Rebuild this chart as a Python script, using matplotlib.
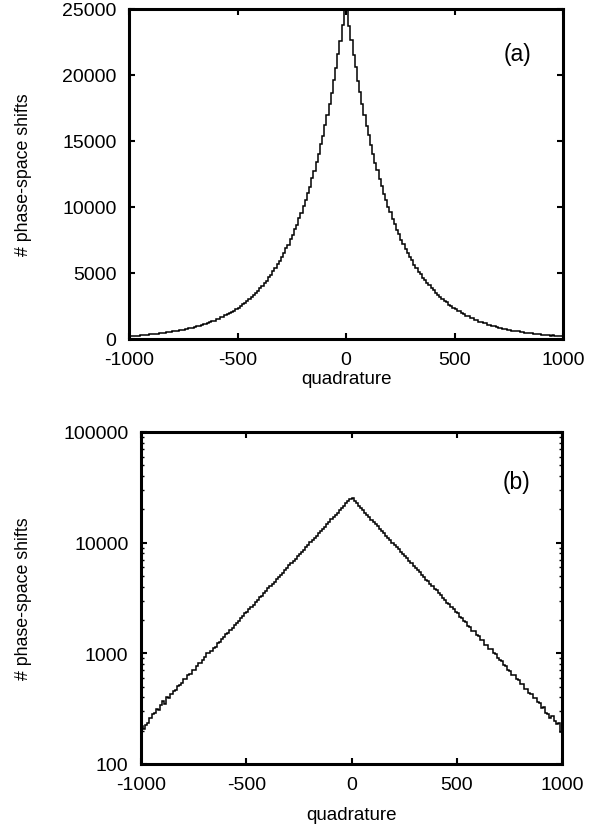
import numpy as np
import matplotlib
matplotlib.use("Agg")
import matplotlib.pyplot as plt
from matplotlib.ticker import LogLocator, FixedLocator, NullFormatter

plt.rcParams['font.family'] = ['Liberation Sans', 'DejaVu Sans']

# histogram of the quadrature: 200 bins of width 10 from -1000 to 1000
bin_edges = np.arange(-1000, 1001, 10)

# counts, left half (-1000 .. 0)
counts_left = [
    222, 207, 226, 236, 258, 281, 287, 312, 309, 344,
    373, 350, 402, 398, 431, 455, 462, 508, 521, 537,
    583, 590, 631, 648, 702, 709, 776, 812, 819, 866,
    934, 1008, 1002, 1049, 1121, 1152, 1236, 1275, 1351, 1398,
    1497, 1541, 1639, 1696, 1811, 1868, 1960, 2080, 2155, 2309,
    2364, 2497, 2641, 2738, 2905, 3020, 3197, 3322, 3518, 3660,
    3871, 4022, 4260, 4431, 4688, 4871, 5150, 5362, 5671, 5903,
    6238, 6497, 6866, 7150, 7551, 7873, 8308, 8664, 9139, 9540,
    10057, 10498, 11062, 11553, 12171, 12716, 13392, 13996, 14735, 15406,
    16211, 16953, 17839, 18660, 19627, 20537, 21594, 22603, 23762, 25050,
]
# counts, right half (0 .. 1000)
counts_right = [
    25080, 23710, 22655, 21546, 20588, 19575, 18712, 17787, 17006, 16160,
    15457, 14684, 14048, 13341, 12769, 12121, 11606, 11013, 10549, 10005,
    9588, 9090, 8716, 8258, 7923, 7502, 7202, 6815, 6547, 6190,
    5952, 5623, 5411, 5107, 4920, 4639, 4473, 4213, 4067, 3826,
    3698, 3475, 3363, 3155, 3059, 2865, 2782, 2601, 2530, 2361,
    2302, 2144, 2094, 1946, 1905, 1766, 1734, 1602, 1578, 1454,
    1436, 1318, 1308, 1196, 1191, 1084, 1084, 1003, 985, 902,
    871, 851, 788, 772, 714, 697, 641, 633, 589, 574,
    529, 524, 478, 472, 436, 433, 392, 395, 361, 355,
    318, 324, 291, 284, 262, 270, 246, 228, 233, 196,
]
counts = np.array(counts_left + counts_right)

x_ticks = [-1000, -500, 0, 500, 1000]
lin_ticks = [0, 5000, 10000, 15000, 20000, 25000]
log_ticks = [100, 1000, 10000, 100000]

fig = plt.figure(figsize=(6.03, 8.28), dpi=100)
ax1 = fig.add_axes([129 / 603, 1 - 340 / 828, 434 / 603, 330 / 828])
ax2 = fig.add_axes([141 / 603, 1 - 765 / 828, 421 / 603, 332 / 828])

for ax in (ax1, ax2):
    ax.stairs(counts, bin_edges, color='black', linewidth=1.1)
    ax.set_xlim(-1000, 1000)
    ax.set_xticks(x_ticks)
    ax.set_xticklabels([str(t) for t in x_ticks])
    for s in ax.spines.values():
        s.set_linewidth(2.2)
    ax.tick_params(which='major', direction='in', top=True, right=True,
                   length=4, width=1.5, labelsize=14)
    ax.tick_params(axis='x', which='major', pad=8.5)
    ax.tick_params(axis='y', which='major', pad=9)
    ax.tick_params(which='minor', direction='in', top=True, right=True,
                   length=2.5, width=1.0)
    ax.set_xlabel("quadrature", fontsize=13.5)
    ax.set_ylabel("# phase-space shifts", fontsize=12.8)

ax1.set_ylim(0, 25000)
ax1.set_yticks(lin_ticks)
ax1.set_yticklabels([str(t) for t in lin_ticks])
ax1.text(0.895, 0.865, "(a)", transform=ax1.transAxes, fontsize=16.5,
         ha='center', va='center')
ax1.yaxis.set_label_coords(-0.224, 0.5)
ax1.xaxis.set_label_coords(0.5, -0.093)

ax2.set_yscale('log')
ax2.set_ylim(100, 100000)
ax2.yaxis.set_major_locator(FixedLocator(log_ticks))
ax2.set_yticklabels([str(t) for t in log_ticks])
ax2.yaxis.set_minor_locator(LogLocator(base=10, subs=np.arange(2, 10)))
ax2.yaxis.set_minor_formatter(NullFormatter())
ax2.text(0.893, 0.85, "(b)", transform=ax2.transAxes, fontsize=16.5,
         ha='center', va='center')
ax2.yaxis.set_label_coords(-0.259, 0.5)
ax2.xaxis.set_label_coords(0.5, -0.127)

fig.savefig("out.png", dpi=100)
